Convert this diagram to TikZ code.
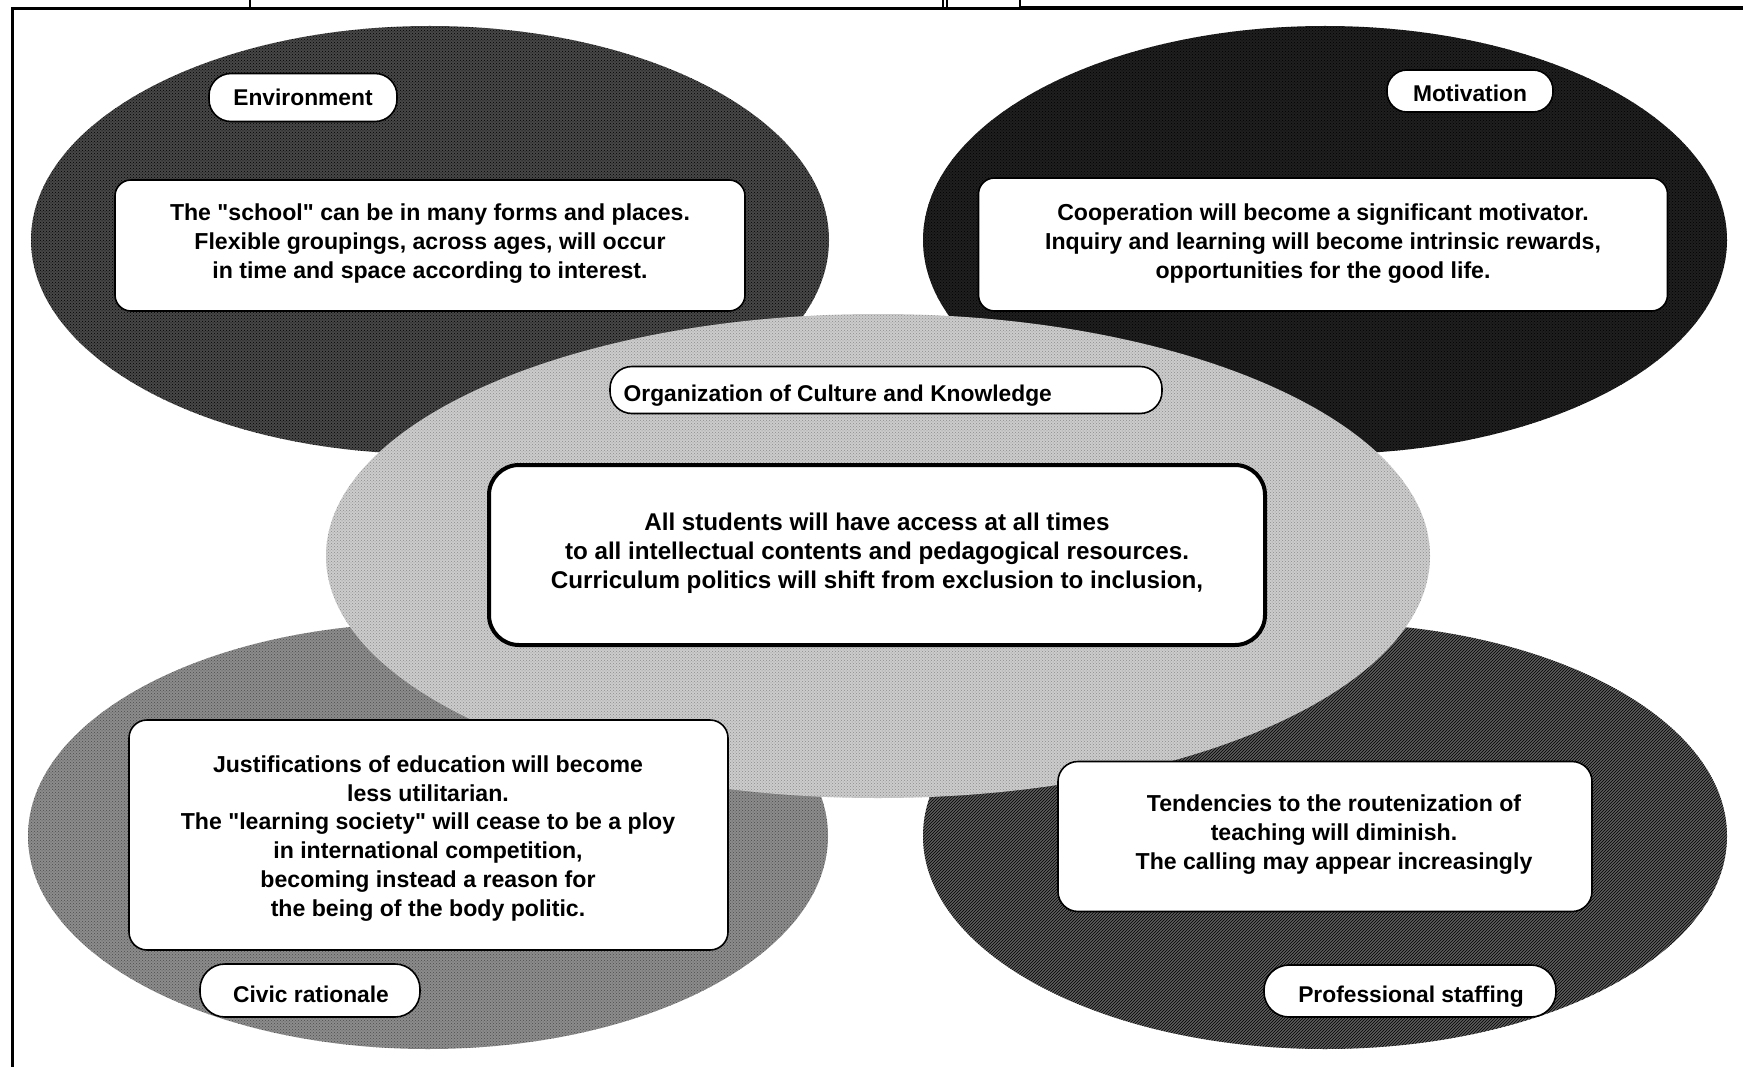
\documentclass[tikz,border=0pt]{standalone}
\usepackage{fontspec}
\setmainfont{Liberation Sans}[Ligatures=TeXOff]
\usetikzlibrary{patterns}
\begin{document}
\begin{tikzpicture}[x=1pt,y=-1pt,
  txt/.style={font=\fontsize{23.1}{28.9}\selectfont\bfseries, align=center, inner sep=0pt},
  bigtxt/.style={font=\fontsize{24.2}{28.9}\selectfont\bfseries, align=center, inner sep=0pt},
  boxstyle/.style={draw=black, line width=1.6pt, fill=white, rounded corners=16pt, inner sep=0pt},
  pill/.style={font=\fontsize{22.8}{28.9}\selectfont\bfseries, inner sep=0pt, draw=black, line width=1.6pt, fill=white, text height=16pt, text depth=0pt},
  labtxt/.style={font=\fontsize{22.8}{28.9}\selectfont\bfseries, inner sep=0pt, text height=16pt, text depth=0pt},
  frameline/.style={line width=3pt, black},
  ]
\useasboundingbox (0,0) rectangle (1743,1067);
\fill[white] (0,0) rectangle (1743,1067);

% frame
\draw[frameline] (12,1067) -- (12,9) -- (1743,9);
\draw[line width=2pt] (250,0) -- (250,9);
\draw[line width=2pt] (943,0) -- (943,9);
\draw[line width=2pt] (947,0) -- (947,9);
\draw[line width=2.5pt] (1020,0) -- (1020,9);
\draw[line width=4.5pt] (1020,8) -- (1743,8);

% corner ellipses
\fill[black!72] (430,240) ellipse [x radius=399pt, y radius=214pt];
\fill[pattern=crosshatch dots, pattern color=black] (430,240) ellipse [x radius=399pt, y radius=214pt];
\fill[black!88] (1325,240) ellipse [x radius=402pt, y radius=214pt];
\fill[pattern=crosshatch dots, pattern color=black] (1325,240) ellipse [x radius=402pt, y radius=214pt];
\fill[black!45] (428,836) ellipse [x radius=400pt, y radius=213pt];
\fill[pattern=crosshatch dots, pattern color=black!70] (428,836) ellipse [x radius=400pt, y radius=213pt];
\fill[black!64] (1325,836) ellipse [x radius=402pt, y radius=213pt];
\fill[pattern=north east lines, pattern color=black] (1325,836) ellipse [x radius=402pt, y radius=213pt];

% central ellipse
\fill[black!20] (878,556) ellipse [x radius=552pt, y radius=242pt];
\fill[pattern=crosshatch dots, pattern color=black!45] (878,556) ellipse [x radius=552pt, y radius=242pt];

% Environment
\node[pill, minimum width=188pt, minimum height=48pt, rounded corners=22pt] (envlab) at (303,97.5) {Environment};
\node[boxstyle, minimum width=630pt, minimum height=131pt] (envbox) at (430,245.5) {};
\node[txt] (envtxt) at (430,243.5) {The "school" can be in many forms and places.\\Flexible groupings, across ages, will occur\\in time and space according to interest.};

% Motivation
\node[pill, minimum width=166pt, minimum height=42pt, rounded corners=20pt] (motlab) at (1470,91) {};
\node[labtxt] (mottl) at (1470,94) {Motivation};
\node[boxstyle, minimum width=689pt, minimum height=133pt] (motbox) at (1323,244.5) {};
\node[txt] (mottxt) at (1323,243.5) {Cooperation will become a significant motivator.\\Inquiry and learning will become intrinsic rewards,\\opportunities for the good life.};

% Organization
\node[draw=black, line width=1.6pt, fill=white, minimum height=47pt, minimum width=552pt, rounded corners=22pt] (orglab) at (886,390) {};
\node[labtxt, anchor=west] (orgtl) at (623.5,393.5) {Organization of Culture and Knowledge};
\node[boxstyle, line width=4pt, rounded corners=30pt, minimum width=776pt, minimum height=180pt] (orgbox) at (877,555) {};
\node[bigtxt] (orgtxt) at (877,553.5) {All students will have access at all times\\to all intellectual contents and pedagogical resources.\\Curriculum politics will shift from exclusion to inclusion,};

% Civic rationale
\node[boxstyle, minimum width=599pt, minimum height=230pt, rounded corners=18pt] (civbox) at (428.5,835) {};
\node[txt] (civtxt) at (428,838.5) {Justifications of education will become\\less utilitarian.\\The "learning society" will cease to be a ploy\\in international competition,\\becoming instead a reason for\\the being of the body politic.};
\node[pill, minimum width=220pt, minimum height=53pt, rounded corners=25pt] (civlab) at (310,990.5) {};
\node[labtxt] (civtl) at (311,994.5) {Civic rationale};

% Professional staffing
\node[boxstyle, minimum width=534pt, minimum height=150pt, rounded corners=20pt] (probox) at (1325,836.5) {};
\node[txt] (protxt) at (1334,834.5) {Tendencies to the routenization of\\teaching will diminish.\\The calling may appear increasingly};
\node[pill, minimum width=292pt, minimum height=52pt, rounded corners=25pt] (prolab) at (1410,991) {};
\node[labtxt] (protl) at (1411,994.5) {Professional staffing};

\end{tikzpicture}
\end{document}
